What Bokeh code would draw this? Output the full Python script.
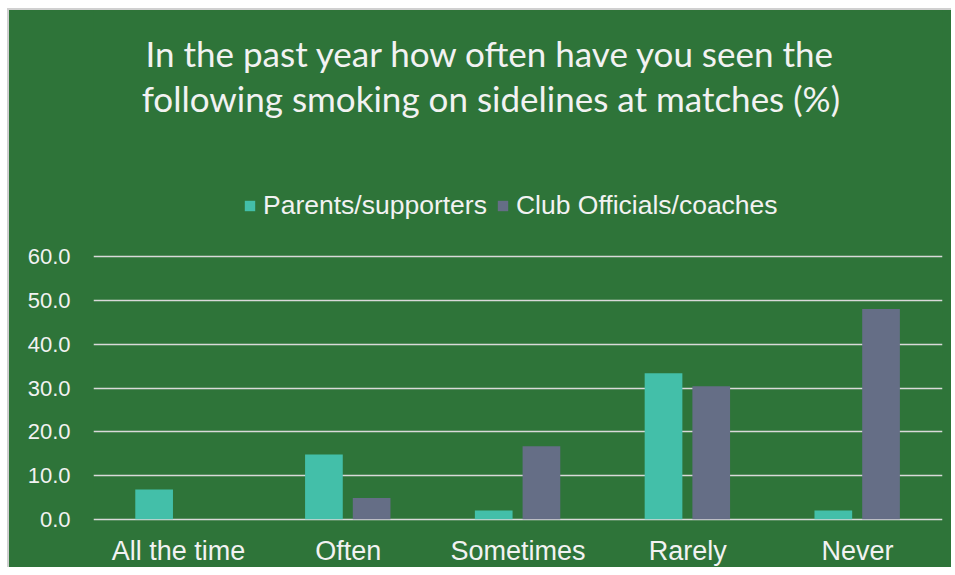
from bokeh.plotting import figure
from bokeh.models import Legend, LegendItem, Label, Range1d, NumeralTickFormatter, FixedTicker, ColumnDataSource
from bokeh.transform import dodge
from bokeh.embed import file_html
from bokeh.resources import INLINE

categories = ["All the time", "Often", "Sometimes", "Rarely", "Never"]
parents = [6.8, 14.8, 2.0, 33.4, 2.0]
officials = [0.0, 4.9, 16.7, 30.4, 48.1]
series_names = ["Parents/supporters", "Club Officials/coaches"]
y_ticks = [0, 10, 20, 30, 40, 50, 60]
title_lines = ["In the past year how often have you seen the",
               "following smoking on sidelines at matches (%)"]

BG = "#2E7439"
TEAL = "#43BFA9"
SLATE = "#656E86"
TXT = "#F2F2F2"
GRID = "#D9D9D9"

src = ColumnDataSource(dict(cat=categories, parents=parents, officials=officials))

# frame spans from the top of the figure; the value axis only ticks 0..60
p = figure(x_range=categories, y_range=Range1d(-0.5, 116.3), width=944, height=559,
           output_backend="svg", toolbar_location=None,
           min_border_left=84, min_border_right=11, min_border_top=0, min_border_bottom=48)
p.styles = {"margin-left": "7px", "margin-top": "8px", "background-color": BG,
            "border-left": "2px solid #D0D0D0", "border-top": "2px solid #D0D0D0"}
p.title = None
p.background_fill_color = BG
p.border_fill_color = BG
p.outline_line_color = None
p.outline_line_alpha = 0

r1 = p.vbar(x=dodge("cat", -0.143, range=p.x_range), top="parents", width=0.222, source=src,
            fill_color=TEAL, line_color=None)
r2 = p.vbar(x=dodge("cat", 0.138, range=p.x_range), top="officials", width=0.222, source=src,
            fill_color=SLATE, line_color=None)

p.xgrid.grid_line_color = None
p.ygrid.grid_line_color = GRID
p.ygrid.grid_line_width = 1.6
p.yaxis.ticker = FixedTicker(ticks=y_ticks)
p.yaxis.formatter = NumeralTickFormatter(format="0.0")

for ax in (p.xaxis[0], p.yaxis[0]):
    ax.axis_line_color = None
    ax.major_tick_line_color = None
    ax.minor_tick_line_color = None
    ax.major_tick_out = 0
    ax.major_tick_in = 0
    ax.minor_tick_out = 0
    ax.major_label_text_color = TXT
    ax.major_label_text_font = "Liberation Sans"

p.yaxis.major_label_text_font_size = "22px"
p.yaxis.major_label_standoff = 23
p.xaxis.major_label_text_font_size = "27px"
p.xaxis.major_label_standoff = 14

legend = Legend(items=[LegendItem(label=series_names[0], renderers=[r1]),
                       LegendItem(label=series_names[1], renderers=[r2])],
                orientation="horizontal", location=(150, 300),
                background_fill_alpha=0, border_line_color=None,
                label_text_color=TXT, label_text_font="Liberation Sans",
                label_text_font_size="26.5px", glyph_width=13, glyph_height=13,
                label_standoff=7, spacing=9, padding=0, margin=0)
p.add_layout(legend, "center")

for txt, yv in zip(title_lines, [106.5, 96.2]):
    p.add_layout(Label(x=2.34, y=yv, text=txt, text_align="center", text_baseline="middle",
                       text_color=TXT, text_font="Lato", text_font_size="35px"))

open("out.html", "w").write(file_html(p, INLINE))
